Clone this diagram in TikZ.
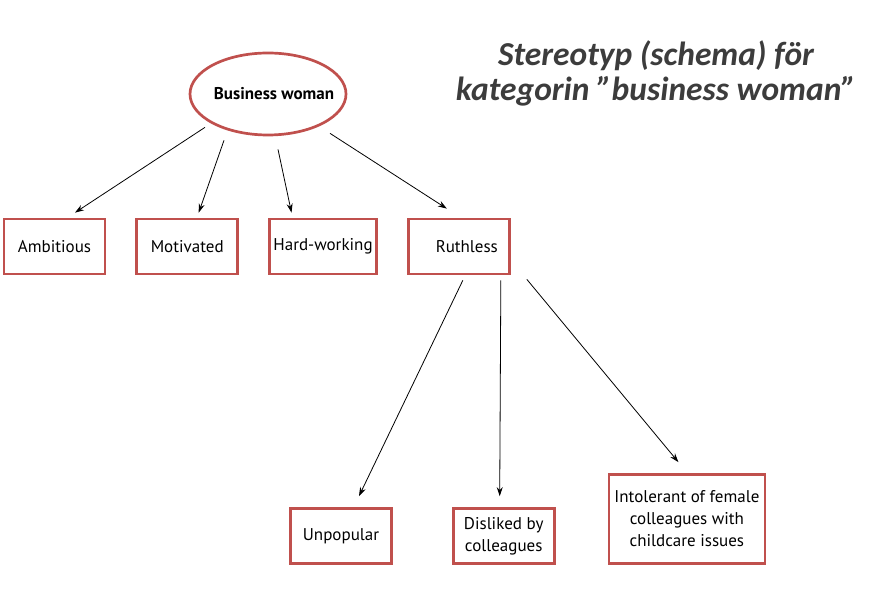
\documentclass[tikz,border=0pt]{standalone}
\usepackage{fontspec}
\setmainfont{PT Sans}
\newfontfamily\titlefont{Carlito}
\usetikzlibrary{shapes.geometric, arrows.meta, positioning}
\definecolor{boxred}{RGB}{192,80,77}
\definecolor{titlegray}{RGB}{60,60,60}
\tikzstyle{category} = [ellipse, draw=boxred, line width=2.7pt, minimum width=156pt, minimum height=82pt, inner xsep=-12pt, text centered, font=\fontsize{17}{19}\selectfont\bfseries]
\tikzstyle{trait} = [rectangle, draw=boxred, line width=2.7pt, minimum width=101pt, minimum height=55pt, inner xsep=4pt, text centered, font=\fontsize{17}{22}\selectfont]
\tikzstyle{arrow} = [line width=0.8pt, -{Stealth[length=9pt,width=6pt]}]

\begin{document}
\begin{tikzpicture}[x=1pt, y=1pt]
    \useasboundingbox (0,0) rectangle (869,603);
    % Title
    \node (title) [align=center, text=titlegray, font=\titlefont\fontsize{33.5}{35}\selectfont\bfseries\itshape] at (656,530) {Stereotyp (schema) för\\kategorin ”business woman”};

    % Nodes
    \node (bw) [category] at (268,509) {\hspace*{6pt}Business woman\hspace*{-6pt}};
    \node (ambitious) [trait] at (54.5,356.5) {Ambitious};
    \node (motivated) [trait, right=29pt of ambitious] {Motivated};
    \node (hardworking) [trait, right=29pt of motivated] {Hard-working};
    \node (ruthless) [trait, right=29pt of hardworking] {\hspace*{8pt}Ruthless\hspace*{-8pt}};

    % Consequences of ruthless
    \node (unpopular) [trait] at (341,67) {Unpopular};
    \node (disliked) [trait, right=59pt of unpopular, align=center] {Disliked by\\colleagues};
    \node (intolerant) [trait, right=52pt of disliked.south east, anchor=south west, minimum width=156pt, minimum height=89pt, align=center] {Intolerant of female\\colleagues with\\childcare issues};

    % Arrows
    \draw [arrow] ([xshift=-63pt,yshift=9pt]bw.south) -- ([xshift=20.5pt,yshift=5pt]ambitious.north);
    \draw [arrow] ([xshift=-44pt,yshift=-4pt]bw.south) -- ([xshift=11.5pt,yshift=5pt]motivated.north);
    \draw [arrow] ([xshift=10pt,yshift=-13pt]bw.south) -- ([xshift=-31.5pt,yshift=5pt]hardworking.north);
    \draw [arrow] ([xshift=62pt,yshift=3pt]bw.south) -- ([xshift=-12pt,yshift=9pt]ruthless.north);

    % Ruthless arrows
    \draw [arrow] ([xshift=4pt,yshift=-5pt]ruthless.south) -- ([xshift=18pt,yshift=11pt]unpopular.north);
    \draw [arrow] ([xshift=42pt,yshift=-5pt]ruthless.south) -- ([xshift=-4pt,yshift=11pt]disliked.north);
    \draw [arrow] ([xshift=68pt,yshift=-4pt]ruthless.south) -- ([xshift=-8.5pt,yshift=11pt]intolerant.north);

\end{tikzpicture}
\end{document}
